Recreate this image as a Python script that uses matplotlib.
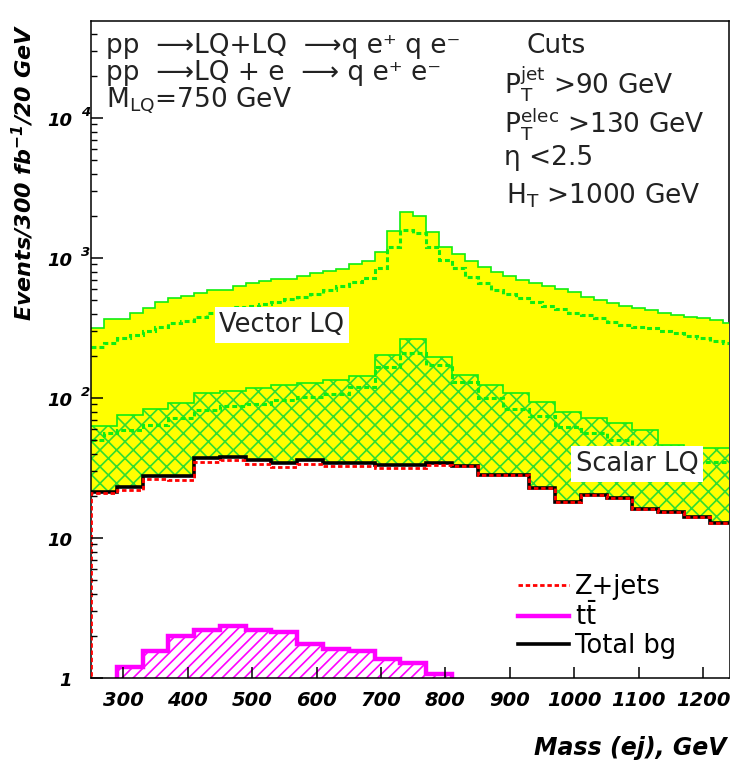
import numpy as np
import matplotlib
matplotlib.use("Agg")
import matplotlib.pyplot as plt
import matplotlib.transforms as mtransforms
from matplotlib.ticker import FixedLocator, LogLocator, NullFormatter

W, H = 737, 769

# bin edges of the mass histograms (20 GeV bins)
MASS_LO, MASS_HI, BIN_W = 250, 1250, 20

# vector LQ: total (pair + single) and pair-only (dashed)
vector_total = [318, 367, 367, 403, 442, 488, 521, 538, 560, 591,
                591, 631, 660, 685, 708, 708, 744, 777, 807, 834,
                905, 945, 1110, 1560, 2120, 2005, 1527, 1205, 1069, 952,
                867, 798, 744, 696, 660, 631, 597, 574, 529, 501,
                475, 454, 437, 425, 403, 392, 381, 371, 361, 345]
vector_pair = [233, 246, 267, 282, 303, 323, 341, 356, 381, 403,
               430, 444, 454, 469, 488, 507, 529, 553, 591, 631,
               677, 716, 844, 1205, 1585, 1500, 1205, 968, 844, 736,
               660, 591, 550, 521, 488, 454, 430, 407, 392, 371,
               351, 332, 323, 315, 303, 290, 277, 267, 257, 246]

# scalar LQ: total and pair-only (dashed)
scalar_total = [63, 63, 75, 75, 84, 84, 92, 92, 108, 108,
                113, 113, 117, 117, 124, 124, 129, 129, 134, 134,
                144, 144, 203, 203, 262, 262, 197, 197, 146, 146,
                124, 124, 108, 108, 94, 94, 80, 80, 72, 72,
                66, 66, 59, 59, 46, 46, 44, 44, 44, 44]
scalar_pair = [50, 56, 59, 59, 64, 64, 72, 72, 82, 82,
               87, 87, 91, 91, 97, 97, 101, 101, 107, 107,
               120, 120, 167, 167, 211, 209, 172, 172, 131, 131,
               100, 100, 84, 84, 74, 74, 62, 62, 56, 56,
               50, 50, 44, 44, 39, 39, 35, 35, 35, 35]

# backgrounds
zjets = [21.0, 21.0, 22.0, 22.0, 26.2, 26.2, 25.8, 25.8, 34.9, 34.9,
         35.8, 35.8, 33.8, 33.8, 32.0, 32.0, 34.0, 34.0, 32.5, 32.5,
         32.6, 32.6, 31.8, 31.8, 31.7, 31.7, 33.3, 33.3, 32.5, 32.5,
         28.0, 28.0, 28.0, 28.0, 22.8, 22.8, 18.0, 18.0, 20.3, 20.3,
         19.2, 19.2, 16.0, 16.0, 15.3, 15.3, 14.2, 14.2, 12.9, 12.9]
ttbar = [0, 0, 1.20, 1.20, 1.55, 1.55, 1.99, 1.99, 2.19, 2.19,
         2.34, 2.34, 2.19, 2.19, 2.13, 2.13, 1.76, 1.76, 1.62, 1.62,
         1.55, 1.55, 1.36, 1.36, 1.27, 1.27, 1.07, 1.07, 0, 0,
         0, 0, 0, 0, 0, 0, 0, 0, 0, 0,
         0, 0, 0, 0, 0, 0, 0, 0, 0, 0]
total_bg = [21.4, 21.4, 23.2, 23.2, 27.8, 27.8, 27.8, 27.8, 37.1, 37.1,
            38.1, 38.1, 36.0, 36.0, 34.1, 34.1, 35.8, 35.8, 34.1, 34.1,
            34.1, 34.1, 33.2, 33.2, 33.0, 33.0, 34.4, 34.4, 32.5, 32.5,
            28.0, 28.0, 28.0, 28.0, 22.8, 22.8, 18.0, 18.0, 20.3, 20.3,
            19.2, 19.2, 16.0, 16.0, 15.3, 15.3, 14.2, 14.2, 12.9, 12.9]

x_ticks = [300, 400, 500, 600, 700, 800, 900, 1000, 1100, 1200]
y_ticks = [1, 10, 100, 1000, 10000]
y_tick_base = ['1', '10', '10', '10', '10']
y_tick_exp = ['', '', '2', '3', '4']

YELLOW = '#ffff00'
GREEN = '#10ee10'
HATCH_GREEN = '#30dd30'
MAGENTA = '#ff00ff'
TXT = '#222222'

plt.rcParams['mathtext.fontset'] = 'custom'
plt.rcParams['mathtext.rm'] = 'DejaVu Sans'
plt.rcParams['mathtext.it'] = 'DejaVu Sans:italic'
plt.rcParams['mathtext.bf'] = 'DejaVu Sans:bold:italic'
plt.rcParams['mathtext.default'] = 'rm'
plt.rcParams['hatch.linewidth'] = 1.2


def fpos(x, y):
    """pixel position in the 737x769 image -> figure fraction"""
    return x / W, 1 - y / H


def main():
    edges = np.arange(MASS_LO, MASS_HI + 1, BIN_W)

    fig = plt.figure(figsize=(W / 100, H / 100), dpi=100)
    ax_l, ax_r, ax_t, ax_b = 91, 729, 21, 678
    ax = fig.add_axes([ax_l / W, 1 - ax_b / H, (ax_r - ax_l) / W, (ax_b - ax_t) / H])

    # fills, back to front
    ax.stairs(vector_total, edges, baseline=0.5, fill=True, color=YELLOW, lw=0, zorder=1)
    ax.stairs(scalar_total, edges, baseline=0.5, fill=True, facecolor='none',
              edgecolor=HATCH_GREEN, hatch='xx', lw=0, zorder=2)
    ax.stairs(total_bg, edges, baseline=0.5, fill=True, color='white', lw=0, zorder=3)
    ax.stairs(ttbar, edges, baseline=0.5, fill=True, facecolor='white',
              edgecolor=MAGENTA, hatch='///', lw=0, zorder=3.5)

    # outlines
    ax.stairs(vector_total, edges, baseline=None, color=GREEN, lw=1.2, zorder=5)
    ax.stairs(vector_pair, edges, baseline=None, color=GREEN, lw=2.2,
              linestyle=(0, (1.6, 1.0)), zorder=5)
    ax.stairs(scalar_total, edges, baseline=None, color=GREEN, lw=1.2, zorder=5)
    ax.stairs(scalar_pair, edges, baseline=None, color=GREEN, lw=2.2,
              linestyle=(0, (1.6, 1.0)), zorder=5)
    tt_line = ax.stairs(ttbar, edges, color=MAGENTA, lw=3.2, zorder=6)
    bg_line = ax.stairs(total_bg, edges, baseline=None, color='black', lw=2.6, zorder=6)
    z_line = ax.stairs(zjets, edges, color='red', lw=2.0,
                       linestyle=(0, (1.6, 1.0)), zorder=9)

    ax.set_yscale('log')
    ax.set_xlim(250, 1240)
    ax.set_ylim(1, 10 ** ((ax_b - ax_t) / 140))

    ax.xaxis.set_major_locator(FixedLocator(x_ticks))
    ax.yaxis.set_major_locator(FixedLocator(y_ticks))
    ax.yaxis.set_minor_locator(LogLocator(subs=np.arange(2, 10)))
    ax.yaxis.set_minor_formatter(NullFormatter())
    ax.tick_params(axis='x', which='major', direction='in', length=8, width=1.1,
                   pad=9, top=False, labelsize=14)
    ax.tick_params(axis='y', which='major', direction='in', length=8.5, width=1.1,
                   right=False, labelleft=False)
    ax.tick_params(axis='y', which='minor', direction='in', length=4.5, width=1.0,
                   right=False)
    for lab in ax.get_xticklabels():
        lab.set_fontweight('bold')
        lab.set_fontstyle('italic')
    ax.xaxis.set_zorder(10)
    ax.yaxis.set_zorder(10)
    for side in ('left', 'top', 'bottom'):
        ax.spines[side].set_zorder(8)
        ax.spines[side].set_linewidth(1.1)
    ax.spines['right'].set_zorder(0.5)
    ax.spines['right'].set_linewidth(1.1)

    # y tick labels, ROOT style "10" with a detached exponent
    trans = mtransforms.blended_transform_factory(fig.transFigure, ax.transData)
    trans_base = mtransforms.offset_copy(trans, fig=fig, y=-2.5, units='dots')
    trans_exp = mtransforms.offset_copy(trans, fig=fig, y=6, units='dots')
    for v, base, ex in zip(y_ticks, y_tick_base, y_tick_exp):
        ax.text(72 / W, v, base, transform=trans_base, ha='right', va='center',
                fontsize=13, fontweight='bold', fontstyle='italic', clip_on=False)
        if ex:
            ax.text(81 / W, v, ex, transform=trans_exp, ha='left', va='center',
                    fontsize=9.5, fontweight='bold', fontstyle='italic', clip_on=False)

    bi = dict(fontweight='bold', fontstyle='italic', color='black')
    fig.text(*fpos(23, 24), r'Events/300 fb$^{\mathbf{-1}}$/20 GeV', rotation=90,
             ha='center', va='top', fontsize=16, **bi)
    fig.text(*fpos(727, 748), 'Mass (ej), GeV', ha='right', va='center', fontsize=17, **bi)

    body = dict(fontsize=19, color=TXT, ha='left', va='baseline')
    fig.text(*fpos(106, 53), 'pp  \u27f6LQ+LQ  \u27f6q e\u207a q e\u207b', **body)
    fig.text(*fpos(106, 80), 'pp  \u27f6LQ + e  \u27f6 q e\u207a e\u207b', **body)
    fig.text(*fpos(106, 108), r'M$_{LQ}$=750 GeV', **body)
    fig.text(*fpos(526, 53), 'Cuts', **body)
    fig.text(*fpos(504, 95), r'P$_T^{jet}$ >90 GeV', **body)
    fig.text(*fpos(504, 133), r'P$_T^{elec}$ >130 GeV', **body)
    fig.text(*fpos(504, 165), '\u03b7 <2.5', **body)
    fig.text(*fpos(506, 203), r'H$_T$ >1000 GeV', **body)

    box = dict(facecolor='white', edgecolor='none', pad=3.5)
    fig.text(*fpos(282, 325), 'Vector LQ', fontsize=18.5, color=TXT, ha='center',
             va='center', bbox=box, zorder=20)
    fig.text(*fpos(637, 464), 'Scalar LQ', fontsize=18.5, color=TXT, ha='center',
             va='center', bbox=box, zorder=20)

    ax.legend([z_line, tt_line, bg_line], ['Z+jets', r'$t\bar{t}$', 'Total bg'],
              loc='upper left', bbox_to_anchor=fpos(518, 574), bbox_transform=fig.transFigure,
              frameon=False, fontsize=18.5, handlelength=2.0, handletextpad=0.2,
              labelspacing=0.1, borderpad=0, borderaxespad=0)

    fig.savefig('out.png', dpi=100)


if __name__ == '__main__':
    main()
